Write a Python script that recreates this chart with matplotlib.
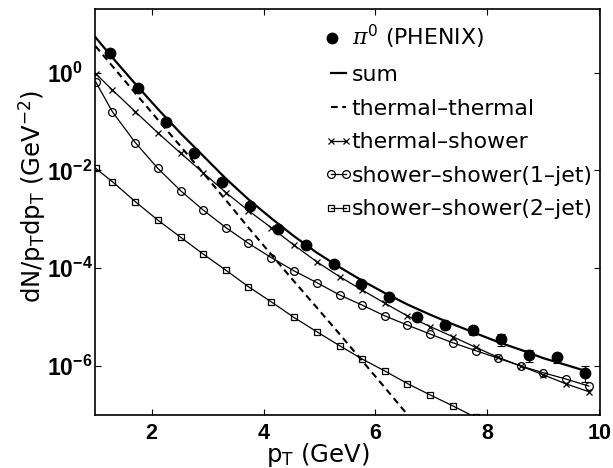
import numpy as np
import matplotlib
matplotlib.use('Agg')
import matplotlib.pyplot as plt
from matplotlib.lines import Line2D
from matplotlib.legend_handler import HandlerLine2D, HandlerLine2DCompound
from matplotlib.ticker import FixedLocator, FuncFormatter, NullLocator

plt.rcParams['font.family'] = ['DejaVu Sans']
plt.rcParams['mathtext.fontset'] = 'custom'
plt.rcParams['mathtext.rm'] = 'DejaVu Sans'
plt.rcParams['mathtext.bf'] = 'Liberation Sans:bold'
plt.rcParams['mathtext.it'] = 'DejaVu Serif:italic'

# PHENIX pi0 points
pt_data = [1.25, 1.75, 2.25, 2.75, 3.25, 3.75, 4.25, 4.75, 5.25, 5.75,
           6.25, 6.75, 7.25, 7.75, 8.25, 8.75, 9.25, 9.75]
yield_data = [2.49, 0.48, 9.95e-2, 2.25e-2, 5.9e-3, 1.88e-3, 6.3e-4, 3.0e-4, 1.22e-4, 4.8e-5,
              2.55e-5, 1.02e-5, 6.9e-6, 5.5e-6, 3.55e-6, 1.69e-6, 1.51e-6, 7.3e-7]
yield_err = [0.2, 0.024, 5e-3, 1.1e-3, 3e-4, 1e-4, 3.5e-5, 1.8e-5, 8e-6, 3.5e-6,
             2.5e-6, 1.3e-6, 1.1e-6, 1.1e-6, 9.2e-7, 4.7e-7, 3.8e-7, 2.6e-7]

# model curves
pt_curve = [1.0, 1.30, 1.71, 2.11, 2.52, 2.92, 3.33, 3.73, 4.14, 4.54, 4.95, 5.36,
            5.76, 6.17, 6.57, 6.98, 7.38, 7.79, 8.19, 8.60, 9.00, 9.41, 9.81]
sum_vals = [5.25, 2.04, 0.589, 0.182, 5.75e-2, 2.0e-2, 6.76e-3, 2.57e-3, 1.05e-3, 4.57e-4,
            2.09e-4, 1.05e-4, 5.6e-5, 3.1e-5, 1.82e-5, 1.12e-5, 7.2e-6, 4.7e-6, 3.1e-6,
            2.14e-6, 1.45e-6, 1.05e-6, 7.6e-7]
tt_vals = [3.47, 1.36, 0.38, 0.11, 3.1e-2, 8.9e-3, 2.45e-3, 6.8e-4, 1.9e-4, 5.5e-5,
           1.58e-5, 4.5e-6, 1.29e-6, 3.6e-7, 1.02e-7, 2.9e-8]
ts_vals = [0.955, 0.443, 0.159, 5.93e-2, 2.25e-2, 9.0e-3, 3.52e-3, 1.51e-3, 6.76e-4, 3.0e-4,
           1.36e-4, 6.73e-5, 3.6e-5, 1.92e-5, 1.06e-5, 6.4e-6, 3.99e-6, 2.42e-6, 1.51e-6,
           1.0e-6, 6.6e-7, 4.3e-7, 3.0e-7]
ss1_vals = [0.655, 0.159, 3.71e-2, 1.11e-2, 3.85e-3, 1.56e-3, 6.76e-4, 3.24e-4, 1.65e-4, 8.9e-5,
            5.1e-5, 2.84e-5, 1.77e-5, 1.06e-5, 6.9e-6, 4.5e-6, 3.0e-6, 2.07e-6, 1.45e-6,
            1.0e-6, 7.3e-7, 5.4e-7, 3.9e-7]
ss2_vals = [1.11e-2, 5.9e-3, 2.3e-3, 9.7e-4, 4.3e-4, 1.96e-4, 9.1e-5, 4.2e-5, 2.05e-5, 9.95e-6,
            5.05e-6, 2.61e-6, 1.40e-6, 7.9e-7, 4.4e-7, 2.56e-7, 1.54e-7, 8.9e-8, 5.8e-8]

labels = [r'$\pi^0$ (PHENIX)', 'sum', 'thermal\u2013thermal', 'thermal\u2013shower',
          'shower\u2013shower(1\u2013jet)', 'shower\u2013shower(2\u2013jet)']


class DotLeft(HandlerLine2DCompound):
    # single marker near the left end of the handle, like the original legend
    def get_xdata(self, legend, xdescent, ydescent, width, height, fontsize):
        xdata = [-xdescent, -xdescent + width]
        return xdata, [-xdescent + 0.1 * width]


fig = plt.figure(figsize=(6.13, 4.68), dpi=100)
ax = fig.add_axes([95 / 613, 53 / 468, 505 / 613, 406 / 468])
ax.set_yscale('log')

eb = ax.errorbar(pt_data, yield_data, yerr=yield_err, fmt='o', color='k', ms=7.5,
                 elinewidth=0.8, capsize=3.2, capthick=0.8, zorder=5)
l_sum, = ax.plot(pt_curve[:len(sum_vals)], sum_vals, '-', color='k', lw=1.6)
l_tt, = ax.plot(pt_curve[:len(tt_vals)], tt_vals, '--', color='k', lw=1.5, dashes=(3.2, 2.2))
l_ts, = ax.plot(pt_curve[:len(ts_vals)], ts_vals, '-', color='k', lw=0.9,
                marker='x', ms=5, mew=0.9)
l_s1, = ax.plot(pt_curve[:len(ss1_vals)], ss1_vals, '-', color='k', lw=0.9,
                marker='o', ms=5.6, mfc='none', mew=0.9)
l_s2, = ax.plot(pt_curve[:len(ss2_vals)], ss2_vals, '-', color='k', lw=0.9,
                marker='s', ms=4.4, mfc='none', mew=0.9)

ax.set_xlim(0.99, 10.01)
ax.set_ylim(1e-7, 20)

ax.set_xticks([2, 4, 6, 8, 10])
ax.set_xticklabels(['2', '4', '6', '8', '10'], fontfamily='Liberation Sans',
                   fontweight='bold', fontsize=15.5)
ax.yaxis.set_major_locator(FixedLocator([1e-6, 1e-4, 1e-2, 1]))
ax.yaxis.set_minor_locator(NullLocator())
ax.yaxis.set_major_formatter(FuncFormatter(lambda v, p: r'$\mathbf{10^{%d}}$' % round(np.log10(v))))
ax.tick_params(which='both', direction='in', top=True, right=True, length=4.3, width=0.8)
ax.tick_params(axis='x', pad=5.5)
ax.tick_params(axis='y', pad=34.5, labelsize=16.5)
for lbl in ax.get_yticklabels():
    lbl.set_horizontalalignment('left')
for sp in ax.spines.values():
    sp.set_linewidth(1.2)

ax.set_xlabel(r'p$_\mathrm{T}$ (GeV)', fontsize=17.5, va='center')
ax.xaxis.set_label_coords(0.4416, -0.0985)
ax.set_ylabel(r'dN/p$_\mathrm{T}$dp$_\mathrm{T}$ (GeV$^{-2}$)', fontsize=17.5, va='center')
ax.yaxis.set_label_coords(-0.125, 0.539)

ax.legend([eb[0], l_sum, l_tt, l_ts, l_s1, l_s2], labels, loc='upper left',
          bbox_to_anchor=(0.467, 0.965), frameon=False, fontsize=15.8,
          handlelength=0.7, handletextpad=0.25, labelspacing=0.62,
          borderpad=0, borderaxespad=0,
          handler_map={eb[0]: DotLeft(numpoints=1),
                       Line2D: HandlerLine2D(numpoints=2, marker_pad=0)})

fig.savefig('out.png', dpi=100)
